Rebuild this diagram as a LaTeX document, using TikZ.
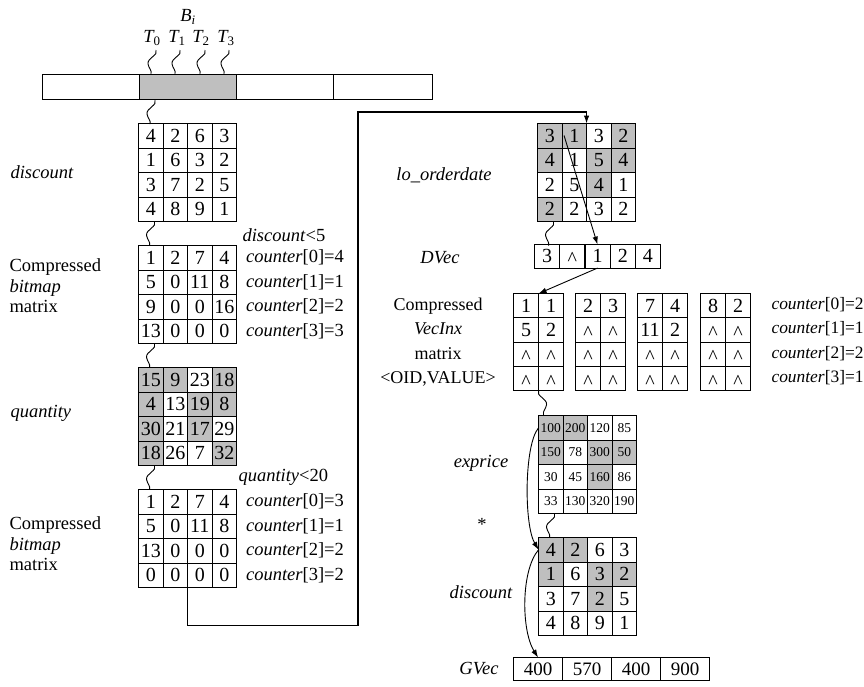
\documentclass[tikz,border=0pt]{standalone}
\usepackage{fontspec}
\setmainfont{Liberation Serif}
\usetikzlibrary{matrix,calc,arrows.meta}
\newcommand\mycaret{\raisebox{-0.15em}{\textasciicircum}}
\begin{document}
\begin{tikzpicture}[x=1pt,y=-1pt,line width=1.1pt,
  cellm/.style={matrix of nodes, nodes in empty cells, anchor=north west,
    inner sep=0pt, outer sep=0pt, column sep=-1.1pt, row sep=-1.1pt,
    nodes={draw, anchor=center, inner sep=0pt, minimum width=24.5pt,
      minimum height=24.5pt, text height=13.2pt, text depth=0pt,
      font=\fontsize{20}{20}\selectfont}},
  g/.style={fill=gray!50},
  lab/.style={font=\fontsize{18.5}{20}\selectfont\itshape, inner sep=0pt},
  rlab/.style={font=\fontsize{18.5}{20.5}\selectfont, inner sep=0pt},
  cnt/.style={font=\fontsize{18.5}{20}\selectfont, inner sep=0pt, anchor=west},
  rcnt/.style={font=\fontsize{17.4}{18}\selectfont, inner sep=0pt, anchor=west},
  barbox/.style={draw, minimum width=97pt, minimum height=25pt, anchor=north west, inner sep=0pt},
  arr/.style={-{Latex[length=8pt,width=5.5pt]}},
  squig/.pic={\draw[line width=0.9pt] (0,0) .. controls (3,5) and (-9,8) .. (-8,14) .. controls (-7,19) and (-4,20) .. (-5,24);}
]
\useasboundingbox (0,0) rectangle (864,686);

% ---- top bar ----
\node[barbox] (bar1) at (42,74) {};
\node[barbox, g] (bar2) at (139,74) {};
\node[barbox] (bar3) at (236,74) {};
\node[barbox, minimum width=99pt] (bar4) at (333,74) {};
\node[lab] (Bi) at (188,17) {B\textsubscript{\itshape i}};
\node[lab] (T0) at (152,38) {T\textsubscript{\upshape 0}};
\node[lab] (T1) at (177,38) {T\textsubscript{\upshape 1}};
\node[lab] (T2) at (201,38) {T\textsubscript{\upshape 2}};
\node[lab] (T3) at (226,38) {T\textsubscript{\upshape 3}};
\pic at (156,50) {squig};
\pic at (180,50) {squig};
\pic at (205,50) {squig};
\pic at (229,50) {squig};

% ---- left column ----
\matrix[cellm] (m1) at (138,123) {4 & 2 & 6 & 3\\ 1 & 6 & 3 & 2\\ 3 & 7 & 2 & 5\\ 4 & 8 & 9 & 1\\};
\matrix[cellm] (m2) at (138,245) {1 & 2 & 7 & 4\\ 5 & 0 & 11 & 8\\ 9 & 0 & 0 & 16\\ 13 & 0 & 0 & 0\\};
\matrix[cellm] (q) at (138,367) {|[g]|15 & |[g]|9 & 23 & |[g]|18\\ |[g]|4 & 13 & |[g]|19 & |[g]|8\\ |[g]|30 & 21 & |[g]|17 & 29\\ |[g]|18 & 26 & 7 & |[g]|32\\};
\matrix[cellm] (bm) at (138,489) {1 & 2 & 7 & 4\\ 5 & 0 & 11 & 8\\ 13 & 0 & 0 & 0\\ 0 & 0 & 0 & 0\\};

\pic at ($(bar2.south west)+(16,0)$) {squig};
\pic at ($(m1-4-1.south west)+(16,0)$) {squig};
\pic at ($(m2-4-1.south west)+(16,0)$) {squig};
\pic at ($(q-4-1.south west)+(16,0)$) {squig};

\node[lab, anchor=west] (ldisc) at (10,172) {discount};
\node[rlab, anchor=west, align=left] (lcb1) at (9,286) {Compressed\\\textit{bitmap}\\matrix};
\node[lab, anchor=west] (lqty) at (10,413) {quantity};
\node[rlab, anchor=west, align=left] (lcb2) at (9,544) {Compressed\\\textit{bitmap}\\matrix};
\node[cnt] (c5) at (242,235) {\textit{discount}<5};
\node[cnt] (c20) at (238,477) {\textit{quantity}<20};

\node[cnt] at ($(m2-1-4.east)+(9,0)$) {\textit{counter}[0]=4};
\node[cnt] at ($(m2-2-4.east)+(9,0)$) {\textit{counter}[1]=1};
\node[cnt] at ($(m2-3-4.east)+(9,0)$) {\textit{counter}[2]=2};
\node[cnt] at ($(m2-4-4.east)+(9,0)$) {\textit{counter}[3]=3};
\node[cnt] at ($(bm-1-4.east)+(9,0)$) {\textit{counter}[0]=3};
\node[cnt] at ($(bm-2-4.east)+(9,0)$) {\textit{counter}[1]=1};
\node[cnt] at ($(bm-3-4.east)+(9,0)$) {\textit{counter}[2]=2};
\node[cnt] at ($(bm-4-4.east)+(9,0)$) {\textit{counter}[3]=2};

% ---- right column ----
\matrix[cellm] (lo) at (537,123) {|[g]|3 & |[g]|1 & 3 & |[g]|2\\ |[g]|4 & 1 & |[g]|5 & |[g]|4\\ 2 & 5 & |[g]|4 & 1\\ |[g]|2 & 2 & 3 & 2\\};
\matrix[cellm, nodes={minimum width=25.2pt, minimum height=23.5pt}] (dv) at (534,244) {3 & \mycaret & 1 & 2 & 4\\};
\matrix[cellm, nodes={minimum width=25pt, minimum height=24.3pt}] (vx1) at (513,293) {1 & 1\\ 5 & 2\\ \mycaret & \mycaret\\ \mycaret & \mycaret\\};
\matrix[cellm, nodes={minimum width=25pt, minimum height=24.3pt}] (vx2) at (575,293) {2 & 3\\ \mycaret & \mycaret\\ \mycaret & \mycaret\\ \mycaret & \mycaret\\};
\matrix[cellm, nodes={minimum width=25pt, minimum height=24.3pt}] (vx3) at (637,293) {7 & 4\\ 11 & 2\\ \mycaret & \mycaret\\ \mycaret & \mycaret\\};
\matrix[cellm, nodes={minimum width=25pt, minimum height=24.3pt}] (vx4) at (700,293) {8 & 2\\ \mycaret & \mycaret\\ \mycaret & \mycaret\\ \mycaret & \mycaret\\};
\matrix[cellm, nodes={font=\fontsize{13.5}{14}\selectfont, text height=8.9pt}] (ex) at (538,415) {|[g]|100 & |[g]|200 & 120 & 85\\ |[g]|150 & 78 & |[g]|300 & |[g]|50\\ 30 & 45 & |[g]|160 & 86\\ 33 & 130 & 320 & 190\\};
\matrix[cellm] (ds) at (538,537) {|[g]|4 & |[g]|2 & 6 & 3\\ |[g]|1 & 6 & |[g]|3 & |[g]|2\\ 3 & 7 & |[g]|2 & 5\\ 4 & 8 & 9 & 1\\};
\matrix[cellm, nodes={minimum width=49pt, minimum height=22.5pt, font=\fontsize{19}{19}\selectfont, text height=12.5pt}] (gv) at (513,657) {400 & 570 & 400 & 900\\};

\pic at ($(lo-4-1.south west)+(16,0)$) {squig};
\pic[xscale=-1] at (vx1-4-1.south east) {squig};
\pic at ($(ex-4-1.south west)+(16,0)$) {squig};

\node[lab] (llo) at (444,175) {lo\_orderdate};
\node[lab] (ldv) at (440,258) {DVec};
\node[rlab, align=center, font=\fontsize{18}{24.4}\selectfont] (lvx) at (438,342) {Compressed\\\textit{VecInx}\\matrix\\<OID,VALUE>};
\node[lab] (lex) at (481,463) {exprice};
\node[rlab] (star) at (482,524) {*};
\node[lab] (lds) at (481,592) {discount};
\node[lab] (lgv) at (479,669) {GVec};

\node[rcnt] at (771,305) {\textit{counter}[0]=2};
\node[rcnt] at (771,329) {\textit{counter}[1]=1};
\node[rcnt] at (771,354) {\textit{counter}[2]=2};
\node[rcnt] at (771,378) {\textit{counter}[3]=1};

% ---- connectors ----
\coordinate (turn) at (358,112);
\draw[arr] (bm-4-2.south east) -- ++(0,38) -| (turn) -| (lo-1-2.north east);
\draw[arr, line width=0.9pt] ($(lo-1-2.north west)+(2,12)$) -- (dv-1-3.north);
\draw[arr, line width=0.9pt] (dv-1-3.south) -- (vx1-1-1.north east);
\draw[arr, line width=0.9pt] (ex-1-1.west) .. controls (524,445) and (524,525) .. (ds-1-1.west);
\draw[arr, line width=0.9pt] (ds-1-1.west) .. controls (521,570) and (521,630) .. (gv-1-1.north);
\end{tikzpicture}
\end{document}
